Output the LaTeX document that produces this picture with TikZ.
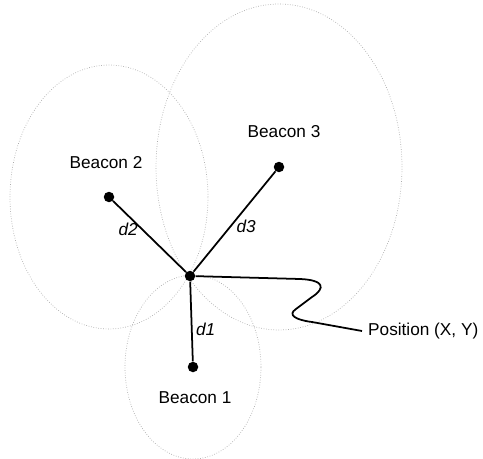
\documentclass[tikz,border=0pt]{standalone}
\usepackage{fontspec}
\setmainfont{Liberation Sans}
\usetikzlibrary{positioning,backgrounds}
\tikzset{
  beacon/.style={circle, fill=black, inner sep=0pt, minimum size=2.1mm},
  reach/.style={draw=gray!65, densely dotted, thin},
  tag/.style={font=\fontsize{9.8}{11}\selectfont},
  dist/.style={font=\fontsize{9.8}{11}\selectfont\itshape, inner sep=1pt},
  link/.style={line width=1pt, line join=round}
}
\begin{document}
\begin{tikzpicture}[x=0.02cm, y=-0.02cm]
  \useasboundingbox (0,0) rectangle (483,459);
  \node[beacon] (p) at (190,276) {};
  \node[beacon] (b1) at (193,367) {};
  \node[beacon] (b2) at (109,197) {};
  \node[beacon] (b3) at (279,167) {};
  \begin{scope}[on background layer]
    \draw[reach] (b2) ellipse [x radius=1.98cm, y radius=2.64cm];
    \draw[reach] (b3) ellipse [x radius=2.46cm, y radius=3.26cm];
    \draw[reach] (b1) ellipse [x radius=1.36cm, y radius=1.84cm];
  \end{scope}
  \node[tag] (l1) at (195,398) {Beacon 1};
  \node[tag] (l2) at (106,163) {Beacon 2};
  \node[tag] (l3) at (284,132) {Beacon 3};
  \node[tag, anchor=west] (pos) at (362,331) {Position (X, Y)};
  \draw[link] (p) -- node[dist, pos=0.6, right=1pt] {d1} (b1);
  \draw[link] (p) -- node[dist, pos=0.6, left=1pt] {d2} (b2);
  \draw[link] (p) -- node[dist, pos=0.45, right=2pt] {d3} (b3);
  \draw[link] (p) -- (300,279) .. controls (324,280) and (326,288) .. (312,297)
    -- (296,309) .. controls (287,315) and (296,320) .. (312,322) -- (pos.west);
\end{tikzpicture}
\end{document}
